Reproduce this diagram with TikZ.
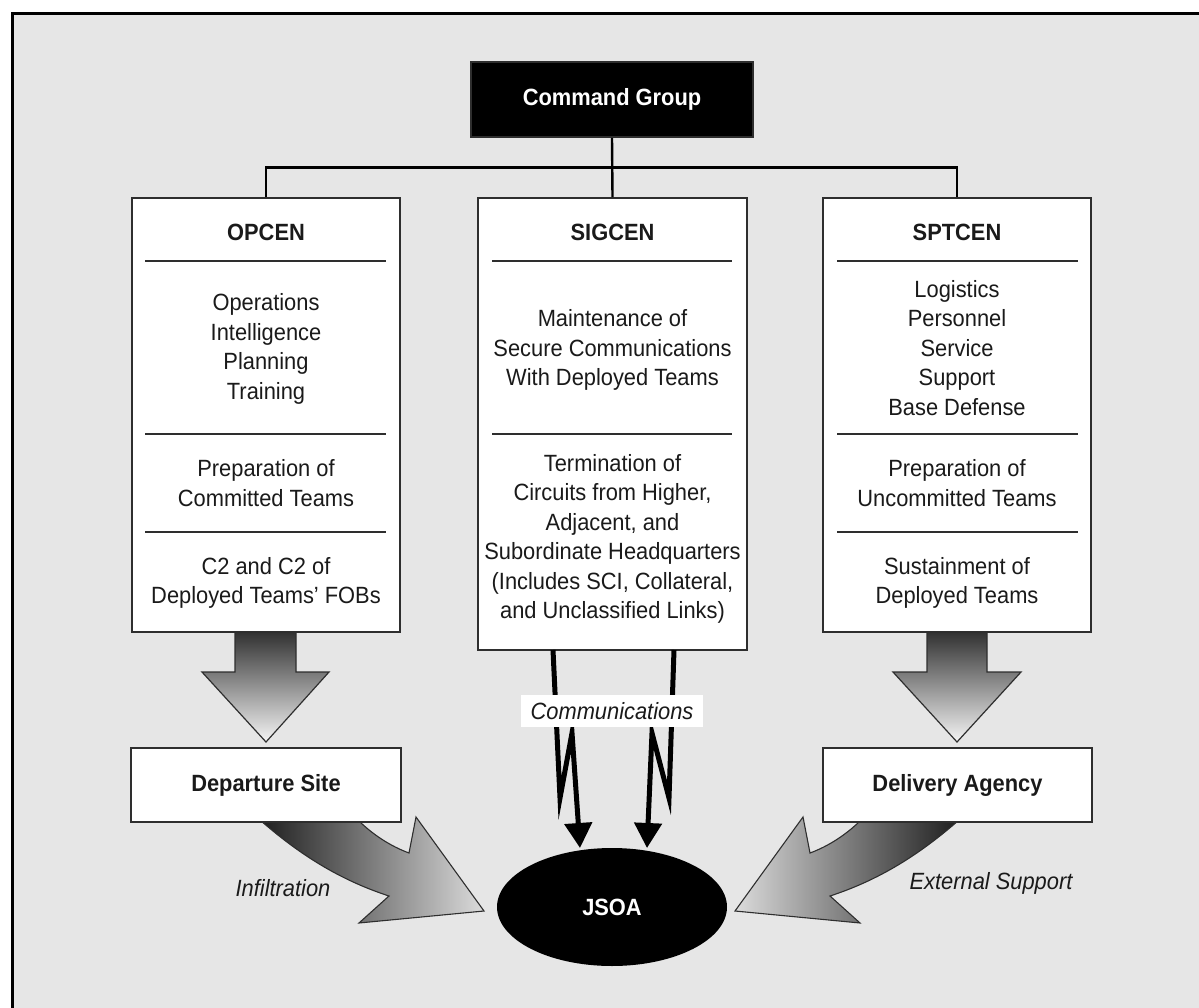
\documentclass[tikz,border=0pt]{standalone}
\usepackage{fontspec}
\setmainfont{Liberation Sans}[FakeStretch=0.93]
\usetikzlibrary{shapes.geometric,arrows.meta,calc}
\definecolor{bg}{HTML}{E6E6E6}
\definecolor{edge}{HTML}{2E2E2E}
\definecolor{ink}{HTML}{1A1A1A}
\newcommand{\dfont}{\fontsize{23.5}{29.5}\selectfont}
\begin{document}
\begin{tikzpicture}[x=1pt,y=-1pt,
  font=\dfont,
  box/.style={draw=edge, line width=1.8, fill=white, inner sep=0},
  sepline/.style={draw=edge, line width=1.8},
  txt/.style={align=center, text=ink, inner sep=0},
  conn/.style={draw=black, line width=2.4},
  bigdown/.style={draw=edge, line width=1.2, top color=black!82, middle color=black!58, bottom color=black!4},
  bolt/.style={draw=black, line width=5, line join=miter, -{Triangle[length=25,width=27]}},
]
\clip (0,0) rectangle (1199,1008);
\useasboundingbox (0,0) rectangle (1199,1008);
\fill[white] (0,0) rectangle (1199,1008);
\draw[line width=3, fill=bg] (12.5,13.5) rectangle (1230,1030);

% big down arrows
\path[bigdown] (235,630) -- (235,672) -- (202,672) -- (266,742) -- (329,672) -- (296,672) -- (296,630) -- cycle;
\path[bigdown] (927,630) -- (927,672) -- (893,672) -- (957,742) -- (1021,672) -- (987,672) -- (987,630) -- cycle;

% curved arrows
\path[draw=edge, line width=1.1, left color=black!88, right color=black!14]
  (260,820) .. controls (300,855) and (340,880) .. (389,896)
  -- (359,923) -- (484,911) -- (416,817) -- (409,853)
  .. controls (390,846) and (372,834) .. (358,820) -- cycle;
\path[draw=edge, line width=1.1, left color=black!14, right color=black!88]
  (959,820) .. controls (919,855) and (879,880) .. (830,896)
  -- (860,923) -- (735,911) -- (803,817) -- (810,853)
  .. controls (829,846) and (847,834) .. (861,820) -- cycle;

% command group
\node[box, fill=black, minimum width=282, minimum height=75, text=white, font=\dfont\bfseries] (cmd) at (612,99.5) {Command Group};

% three centres
\node[box, minimum width=268, minimum height=434] (op) at (266,415) {};
\node[box, minimum width=269, minimum height=452] (sig) at (612.5,424) {};
\node[box, minimum width=268, minimum height=434] (sp) at (957,415) {};

\draw[conn] (cmd.south) -- (sig.north);
\draw[conn] (op.north) |- ($(cmd.south)!0.5!(sig.north)$) -| (sp.north);

% OPCEN
\node[txt, font=\dfont\bfseries] (opT) at (266,232) {OPCEN};
\draw[sepline] (145,261) -- (386,261);
\node[txt] (op1) at (266,349) {Operations\\Intelligence\\Planning\\Training};
\draw[sepline] (145,434) -- (386,434);
\node[txt] (op2) at (266,483) {Preparation of\\Committed Teams};
\draw[sepline] (145,532) -- (386,532);
\node[txt] (op3) at (266,583) {C2 and C2 of\\Deployed Teams’ FOBs};

% SIGCEN
\node[txt, font=\dfont\bfseries] (sigT) at (612.5,232) {SIGCEN};
\draw[sepline] (492,261) -- (732,261);
\node[txt] (sig1) at (612.5,350) {Maintenance of\\Secure Communications\\With Deployed Teams};
\draw[sepline] (492,434) -- (732,434);
\node[txt] (sig2) at (612.5,539) {Termination of\\Circuits from Higher,\\Adjacent, and\\Subordinate Headquarters\\(Includes SCI, Collateral,\\and Unclassified Links)};

% SPTCEN
\node[txt, font=\dfont\bfseries] (spT) at (957,232) {SPTCEN};
\draw[sepline] (837,261) -- (1078,261);
\node[txt] (sp1) at (957,348) {Logistics\\Personnel\\Service\\Support\\Base Defense};
\draw[sepline] (837,434) -- (1078,434);
\node[txt] (sp2) at (957,483) {Preparation of\\Uncommitted Teams};
\draw[sepline] (837,532) -- (1078,532);
\node[txt] (sp3) at (957,583) {Sustainment of\\Deployed Teams};

% lower boxes
\node[box, minimum width=270, minimum height=74, font=\dfont\bfseries, text=ink] (dep) at (266,785) {Departure Site};
\node[box, minimum width=269, minimum height=74, font=\dfont\bfseries, text=ink] (del) at (957.5,785) {Delivery Agency};

% JSOA
\node[ellipse, fill=black, minimum width=230, minimum height=118, inner sep=0, text=white, font=\dfont\bfseries] (jsoa) at (612,907) {JSOA};

% communications bolts
\coordinate (b1s) at (553,650);
\coordinate (b1e) at (580,848);
\coordinate (b2s) at (674,650);
\coordinate (b2e) at (647,848);
\draw[bolt] (b1s) -- (560,798) -- (572,733) -- (b1e);
\draw[bolt] (b2s) -- (669,798) -- (652,733) -- (b2e);
\node[fill=white, inner sep=0, minimum width=182, minimum height=32, text=ink, font=\dfont\itshape] (comm) at (612,711) {Communications};

% labels
\node[txt, font=\dfont\itshape] (infl) at (283,888) {Infiltration};
\node[txt, font=\dfont\itshape] (ext) at (991,883) {External Support};
\end{tikzpicture}
\end{document}
